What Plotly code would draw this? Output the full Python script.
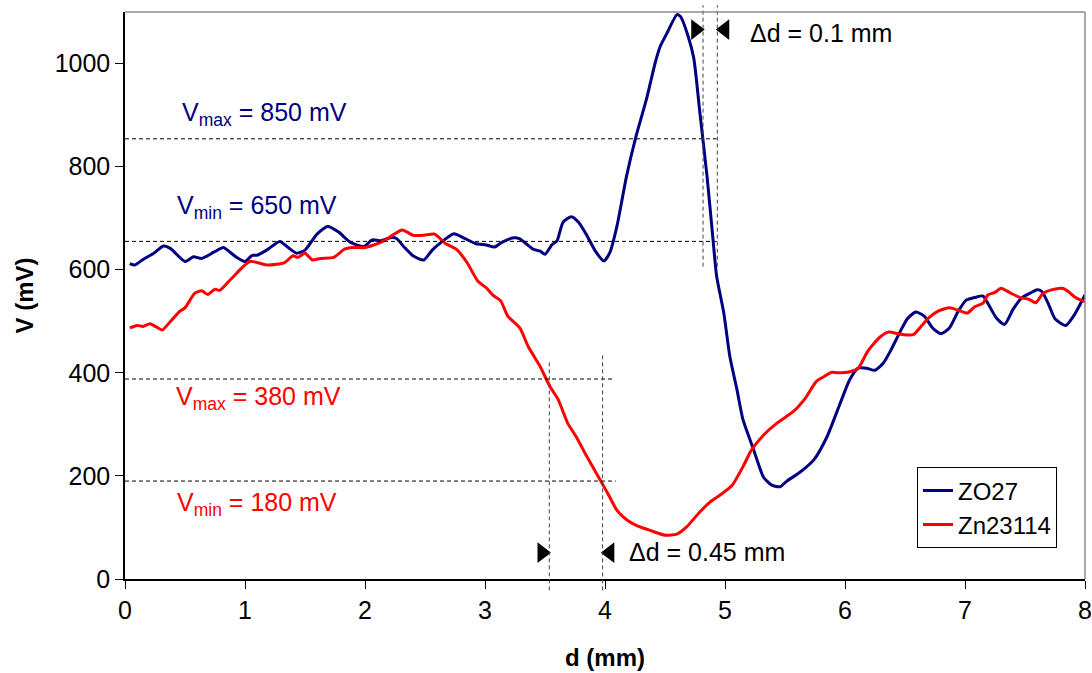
import plotly.graph_objects as go

# ---- data ----
d_zo27 = [0.04, 0.08, 0.15, 0.24, 0.32, 0.38, 0.50, 0.57, 0.64, 0.74, 0.82, 0.88, 0.93, 1.00, 1.06, 1.10,
          1.18, 1.29, 1.36, 1.43, 1.50, 1.60, 1.69, 1.78, 1.88, 1.99, 2.06, 2.13, 2.21, 2.26, 2.33, 2.40,
          2.49, 2.56, 2.65, 2.74, 2.82, 2.92, 3.01, 3.08, 3.14, 3.24, 3.29, 3.40, 3.46, 3.50, 3.56, 3.60,
          3.65, 3.72, 3.78, 3.85, 3.92, 3.99, 4.04, 4.10, 4.18, 4.26, 4.35, 4.42, 4.46, 4.51, 4.60, 4.63,
          4.69, 4.74, 4.79, 4.85, 4.90, 4.93, 4.99, 5.04, 5.10, 5.15, 5.24, 5.32, 5.39, 5.46, 5.51, 5.63,
          5.74, 5.85, 5.96, 6.04, 6.11, 6.18, 6.25, 6.32, 6.38, 6.46, 6.52, 6.59, 6.66, 6.73, 6.80, 6.87,
          6.94, 7.01, 7.08, 7.15, 7.19, 7.26, 7.33, 7.40, 7.47, 7.54, 7.60, 7.64, 7.70, 7.75, 7.84, 7.91, 8.00]
v_zo27 = [612, 609, 620, 632, 646, 641, 616, 625, 622, 634, 643, 633, 624, 616, 628, 628,
          638, 655, 643, 632, 638, 669, 684, 673, 653, 645, 658, 656, 662, 661, 643, 627,
          619, 638, 656, 670, 662, 651, 648, 644, 653, 662, 660, 640, 636, 630, 649, 656,
          692, 703, 692, 666, 636, 617, 633, 685, 782, 860, 935, 1003, 1033, 1056, 1095, 1091,
          1055, 1010, 906, 782, 659, 588, 516, 432, 367, 309, 250, 198, 182, 179, 189, 208,
          231, 276, 341, 387, 409, 409, 405, 419, 443, 480, 505, 518, 510, 487, 476, 487,
          518, 541, 546, 549, 535, 507, 494, 523, 545, 554, 561, 558, 531, 505, 492, 512, 551]

d_zn = [0.04, 0.10, 0.15, 0.21, 0.26, 0.31, 0.38, 0.46, 0.50, 0.58, 0.64, 0.69, 0.75, 0.79, 0.88, 1.04,
        1.19, 1.33, 1.40, 1.44, 1.50, 1.56, 1.63, 1.74, 1.83, 1.90, 2.00, 2.13, 2.21, 2.31, 2.40, 2.49,
        2.58, 2.67, 2.76, 2.85, 2.94, 3.01, 3.07, 3.13, 3.19, 3.29, 3.36, 3.46, 3.54, 3.61, 3.69, 3.76,
        3.85, 3.96, 4.03, 4.10, 4.18, 4.26, 4.38, 4.50, 4.60, 4.68, 4.79, 4.88, 4.96, 5.06, 5.15, 5.22,
        5.32, 5.43, 5.57, 5.67, 5.76, 5.82, 5.89, 5.94, 6.04, 6.11, 6.19, 6.29, 6.36, 6.44, 6.49, 6.57,
        6.63, 6.70, 6.78, 6.87, 6.95, 7.02, 7.08, 7.15, 7.19, 7.25, 7.30, 7.37, 7.46, 7.53, 7.59, 7.65,
        7.72, 7.81, 7.86, 7.92, 8.00]
v_zn = [487, 492, 490, 495, 489, 483, 500, 520, 526, 554, 559, 552, 562, 560, 581, 616,
        609, 614, 627, 624, 632, 619, 622, 624, 640, 643, 643, 653, 664, 677, 667, 667,
        669, 651, 640, 614, 578, 565, 550, 540, 510, 487, 451, 412, 374, 348, 302, 276,
        237, 192, 163, 133, 115, 104, 94, 85, 87, 101, 130, 150, 163, 182, 218, 250,
        279, 302, 325, 351, 383, 392, 401, 400, 402, 409, 442, 469, 479, 476, 474, 474,
        489, 507, 520, 526, 521, 516, 528, 535, 551, 556, 564, 556, 546, 543, 536, 554,
        561, 564, 558, 546, 538]

assert len(d_zo27) == len(v_zo27)
assert len(d_zn) == len(v_zn)

series_names = ["ZO27", "Zn23114"]
series_colors = ["#000080", "#FF0000"]

x_ticks = [0, 1, 2, 3, 4, 5, 6, 7, 8]
y_ticks = [0, 200, 400, 600, 800, 1000]

# reference levels / widths
zo_levels = [854, 655]          # Vmax, Vmin lines for ZO27
zo_level_end = 4.93
zo_dd_lines = [4.817, 4.936]
zn_levels = [388, 190]
zn_level_end = [4.07, 4.09]
zn_dd_lines = [3.536, 3.98]

FONT = "Liberation Sans, Arial, sans-serif"
FS = 25

fig = go.Figure()
fig.add_trace(go.Scatter(x=d_zo27, y=v_zo27, mode="lines", name=series_names[0],
                         line=dict(color=series_colors[0], width=3, shape="spline", smoothing=0.6)))
fig.add_trace(go.Scatter(x=d_zn, y=v_zn, mode="lines", name=series_names[1],
                         line=dict(color=series_colors[1], width=3, shape="spline", smoothing=0.6)))

# triangles for delta-d markers
fig.add_trace(go.Scatter(x=[4.756, 3.475], y=[1066, 51], mode="markers", showlegend=False,
                         marker=dict(symbol="triangle-right", size=18, color="black"), hoverinfo="skip"))
fig.add_trace(go.Scatter(x=[4.998, 4.040], y=[1066, 51], mode="markers", showlegend=False,
                         marker=dict(symbol="triangle-left", size=18, color="black"), hoverinfo="skip"))

shapes = []
dash = "4px,3px"
for lv in zo_levels:
    shapes.append(dict(type="line", xref="x", yref="y", x0=0, x1=zo_level_end, y0=lv, y1=lv,
                       line=dict(color="black", width=1, dash=dash)))
for lv, xe in zip(zn_levels, zn_level_end):
    shapes.append(dict(type="line", xref="x", yref="y", x0=0, x1=xe, y0=lv, y1=lv,
                       line=dict(color="black", width=1, dash=dash)))
for xv in zo_dd_lines:
    shapes.append(dict(type="line", xref="x", yref="paper", x0=xv, x1=xv, y0=606 / 1100, y1=1.012,
                       line=dict(color="#444", width=1, dash=dash)))
for xv, yt in zip(zn_dd_lines, [422, 435]):
    shapes.append(dict(type="line", xref="x", yref="paper", x0=xv, x1=xv, y0=-0.02, y1=yt / 1100,
                       line=dict(color="#444", width=1, dash=dash)))
# top and right frame (gray)
shapes.append(dict(type="line", xref="paper", yref="paper", x0=0, x1=1, y0=1, y1=1,
                   line=dict(color="#8c8c8c", width=1.5)))
shapes.append(dict(type="line", xref="paper", yref="paper", x0=1, x1=1, y0=0, y1=1,
                   line=dict(color="#8c8c8c", width=1.5)))

annotations = []
def label(x, y, text, color):
    annotations.append(dict(x=x, y=y, xref="x", yref="y", text=text, showarrow=False,
                            xanchor="left", yanchor="middle",
                            font=dict(family=FONT, size=FS, color=color)))

label(0.46, 903, "V<sub>max</sub> = 850 mV", series_colors[0])
label(0.415, 722, "V<sub>min</sub> = 650 mV", series_colors[0])
label(0.41, 352, "V<sub>max</sub> = 380 mV", series_colors[1])
label(0.415, 146, "V<sub>min</sub> = 180 mV", series_colors[1])
label(5.19, 1060, "\u0394d = 0.1 mm", "black")
label(4.18, 52, "\u0394d = 0.45 mm", "black")

fig.update_layout(
    width=1092, height=673,
    margin=dict(l=125, r=7, t=12, b=94),
    paper_bgcolor="white", plot_bgcolor="white",
    font=dict(family=FONT, size=FS, color="black"),
    shapes=shapes, annotations=annotations,
    showlegend=True,
    legend=dict(x=0.825, y=0.197, xanchor="left", yanchor="top",
                bordercolor="black", borderwidth=1, bgcolor="white",
                font=dict(family=FONT, size=24, color="black"),
                tracegroupgap=0),
    xaxis=dict(range=[0, 8], tickvals=x_ticks, ticks="outside", ticklen=8, tickcolor="black",
               showline=True, linecolor="black", linewidth=1.5, showgrid=False, zeroline=False,
               automargin=False,
               tickfont=dict(family=FONT, size=FS),
               title=dict(text="<b>d (mm)</b>", font=dict(family=FONT, size=24), standoff=26)),
    yaxis=dict(range=[0, 1100], tickvals=y_ticks, ticks="outside", ticklen=8, tickcolor="black",
               showline=True, linecolor="black", linewidth=1.5, showgrid=False, zeroline=False,
               automargin=False,
               tickfont=dict(family=FONT, size=FS),
               title=dict(text="<b>V (mV)</b>", font=dict(family=FONT, size=24), standoff=14)),
)

# remove the default 8px page margin so the figure fills the window exactly
fig.write_html("out.html", config={"displayModeBar": False},
               post_script="document.body.style.margin='0';document.body.style.overflow='hidden';")
